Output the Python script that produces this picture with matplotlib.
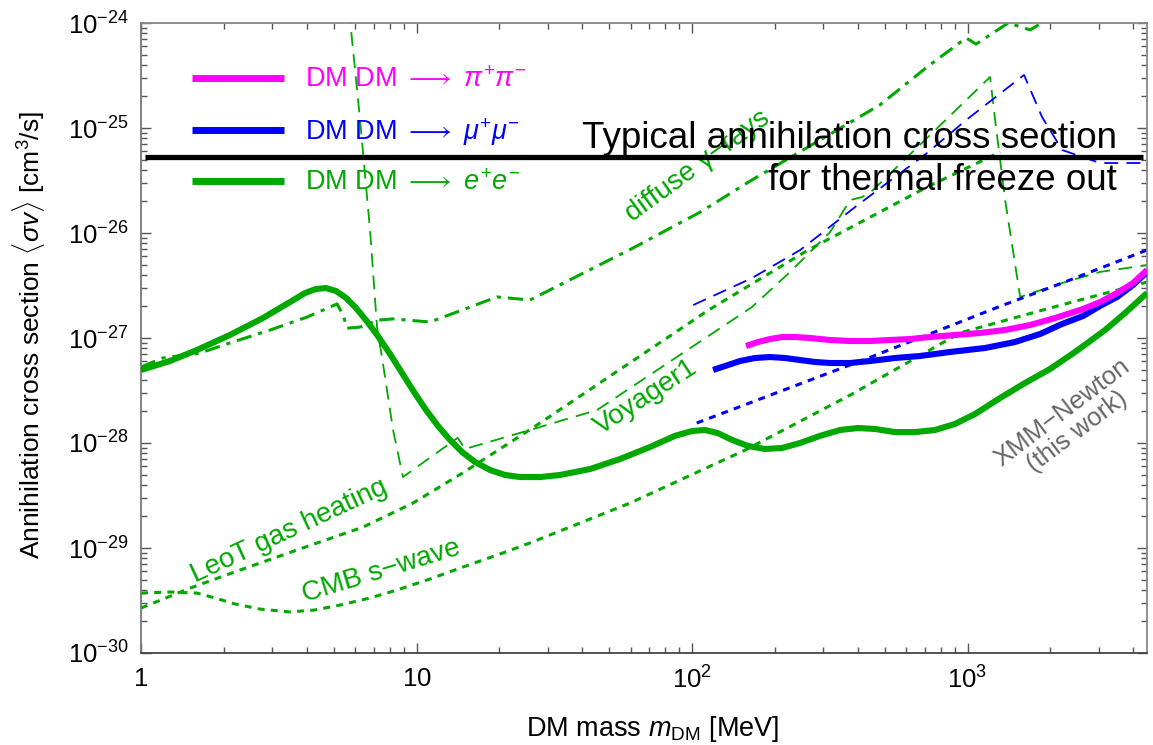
import numpy as np
import matplotlib
matplotlib.use('Agg')
import matplotlib.pyplot as plt
from matplotlib import font_manager
from matplotlib.lines import Line2D
from matplotlib.ticker import FixedLocator, FixedFormatter, LogLocator, NullFormatter

# ---------------- data ----------------
# XMM-Newton, DM DM -> e+ e-  (thick green)
xmm_ee_m = [1.0, 1.274, 1.597, 2.104, 2.772, 3.474, 3.938, 4.317, 4.694, 5.104, 5.548, 6.031, 6.557,
            7.25, 8.014, 8.859, 9.793, 10.83, 11.97, 13.23, 14.63, 16.31, 18.49, 20.96, 23.76, 28.08,
            33.19, 42.65, 54.8, 70.39, 86.76, 100.0, 111.5, 124.3, 139.7, 159.7, 184.1, 212.1, 246.6,
            291.5, 344.5, 400.5, 461.6, 545.6, 644.7, 762.1, 900.8, 1065, 1312, 1617, 1993, 2456,
            3156, 3730, 4482]
xmm_ee_sv = [4.96e-28, 6.04e-28, 7.69e-28, 1.07e-27, 1.55e-27, 2.2e-27, 2.68e-27, 2.93e-27, 2.99e-27,
             2.8e-27, 2.41e-27, 1.93e-27, 1.48e-27, 1.04e-27, 7.04e-28, 4.64e-28, 3.06e-28, 2.06e-28,
             1.45e-28, 1.07e-28, 8.21e-29, 6.59e-29, 5.53e-29, 4.96e-29, 4.74e-29, 4.74e-29, 4.96e-29,
             5.65e-29, 7.04e-29, 9.16e-29, 1.17e-28, 1.3e-28, 1.33e-28, 1.24e-28, 1.07e-28, 9.36e-29,
             8.77e-29, 8.96e-29, 1.0e-28, 1.17e-28, 1.33e-28, 1.39e-28, 1.36e-28, 1.27e-28, 1.27e-28,
             1.33e-28, 1.52e-28, 1.89e-28, 2.68e-28, 3.73e-28, 5.07e-28, 7.36e-28, 1.19e-27, 1.73e-27,
             2.68e-27]

# XMM-Newton, DM DM -> pi+ pi-  (thick magenta)
xmm_pi_m = [157.0, 173.6, 191.9, 212.1, 236.5, 268.1, 316.9, 374.6, 442.7, 523.3, 618.5, 731.0, 900.8,
            1110, 1368, 1686, 2078, 2626, 3027, 3488, 3988, 4482]
xmm_pi_sv = [8.39e-28, 9.16e-28, 9.78e-28, 1.022e-27, 1.022e-27, 1.0e-27, 9.57e-28, 9.36e-28, 9.36e-28,
             9.57e-28, 9.78e-28, 1.022e-27, 1.068e-27, 1.116e-27, 1.192e-27, 1.33e-27, 1.55e-27,
             1.89e-27, 2.2e-27, 2.68e-27, 3.34e-27, 4.44e-27]

# XMM-Newton, DM DM -> mu+ mu-  (thick blue)
xmm_mu_m = [119.2, 131.8, 149.4, 169.3, 191.9, 217.6, 246.6, 279.5, 316.9, 374.6, 442.7, 545.6, 672.4,
            864.2, 1157, 1487, 1834, 2203, 2626, 3027, 3488, 3988, 4482]
xmm_mu_sv = [4.96e-28, 5.41e-28, 6.04e-28, 6.45e-28, 6.59e-28, 6.45e-28, 6.17e-28, 5.91e-28, 5.78e-28,
             5.78e-28, 6.04e-28, 6.45e-28, 6.74e-28, 7.36e-28, 8.03e-28, 9.16e-28, 1.092e-27, 1.36e-27,
             1.62e-27, 2.02e-27, 2.46e-27, 3.2e-27, 4.25e-27]

# diffuse gamma rays, e+e- (green dash-dot)
gam_ee_m = [1.0, 1.2, 1.64, 2.1, 2.94, 4.0, 5.15, 5.41, 5.6, 6.24, 7.25, 8.22, 11.2, 19.6, 25.8,
            61.1, 107, 165, 292, 481, 713, 988, 1074, 1404, 1688, 1993]
gam_ee_sv = [5.3e-28, 6.45e-28, 7.2e-28, 8.96e-28, 1.19e-27, 1.58e-27, 2.11e-27, 1.66e-27, 1.24e-27,
             1.27e-27, 1.48e-27, 1.52e-27, 1.42e-27, 2.46e-27, 2.3e-27, 7.2e-27, 1.58e-26, 3.2e-26,
             7.7e-26, 1.66e-25, 3.81e-25, 7.2e-25, 6.3e-25, 1.0e-24, 8.6e-25, 1.12e-24]

# Voyager1, e+e- (green thin dashed)
voy_ee_m = [5.69, 6.24, 6.78, 7.19, 7.55, 8.22, 8.93, 14.1, 15.0, 25.8, 45.2, 165, 227, 317, 375,
            414, 446, 731, 1207, 1259, 1369, 1552, 2205, 3027, 4485]
voy_ee_sv = [1.33e-24, 1.19e-25, 1.07e-26, 1.27e-27, 5.78e-28, 1.33e-28, 4.74e-29, 1.12e-28, 8.77e-29,
             1.33e-28, 2.06e-28, 1.97e-27, 4.26e-27, 1.02e-26, 2.06e-26, 2.2e-26, 2.46e-26, 8.57e-26,
             3.06e-25, 1.19e-25, 2.06e-26, 2.46e-27, 3.34e-27, 4.26e-27, 4.95e-27]

# LeoT gas heating, e+e- (green dotted)
leot_m = [1.0, 1.51, 2.29, 3.68, 6.39, 9.71, 14.7, 26.7, 115, 264, 713, 1313]
leot_sv = [2.68e-30, 4.16e-30, 6.17e-30, 9.57e-30, 1.58e-29, 2.68e-29, 5.18e-29, 1.42e-28, 1.85e-27,
           6.89e-27, 2.74e-26, 5.9e-26]

# CMB s-wave, e+e- (green dotted)
cmb_ee_m = [1.0, 1.274, 1.6, 1.857, 2.194, 2.704, 3.474, 4.281, 5.277, 6.782, 8.497, 11.19, 14.75,
            20.1, 25.82, 39.22, 59.57, 156, 375, 940, 1993, 4485]
cmb_ee_sv = [3.72e-30, 3.81e-30, 3.72e-30, 3.34e-30, 2.93e-30, 2.62e-30, 2.46e-30, 2.57e-30, 2.86e-30,
             3.34e-30, 3.98e-30, 5.07e-30, 6.59e-30, 8.77e-30, 1.117e-29, 1.73e-29, 2.68e-29, 8.57e-29,
             2.86e-28, 1.12e-27, 1.93e-27, 3.41e-27]

# CMB, mu+mu- (blue dotted)
cmb_mu_m = [104, 446, 1291, 2205, 4485]
cmb_mu_sv = [1.55e-28, 6.59e-28, 1.97e-27, 3.34e-27, 6.89e-27]

# diffuse gamma rays / Voyager, mu+mu- (blue dashed)
gam_mu_m = [101, 165, 247, 391, 713, 988, 1603, 1864, 2205, 3027, 4485]
gam_mu_sv = [2.06e-27, 3.72e-27, 6.89e-27, 1.77e-26, 5.78e-26, 1.19e-25, 3.2e-25, 1.27e-25,
             6.17e-26, 4.64e-26, 4.64e-26]

# typical thermal cross section
thermal_sv = 5.3e-26
thermal_m_range = [1.03, 4340]

x_range = [1, 4480]
y_range = [1e-30, 1e-24]
x_major = [1, 10, 100, 1000]
x_major_labels = ['$1$', '$10$', '$10^{2}$', '$10^{3}$']
y_major = [1e-30, 1e-29, 1e-28, 1e-27, 1e-26, 1e-25, 1e-24]
y_major_labels = ['$10^{-30}$', '$10^{-29}$', '$10^{-28}$', '$10^{-27}$', '$10^{-26}$',
                  '$10^{-25}$', '$10^{-24}$']

legend_labels = [r'DM DM $\longrightarrow$ $\pi^{+}\pi^{-}$',
                 r'DM DM $\longrightarrow$ $\mu^{+}\mu^{-}$',
                 r'DM DM $\longrightarrow$ $e^{+}e^{-}$']

# ---------------- style ----------------
GREEN = '#00a800'
MAGENTA = '#ff00ff'
BLUE = '#0000ff'
GRAY = '#666666'

plt.rcParams['font.family'] = ['Liberation Sans', 'DejaVu Sans']
plt.rcParams['mathtext.fontset'] = 'custom'
plt.rcParams['mathtext.rm'] = 'Liberation Sans'
plt.rcParams['mathtext.sf'] = 'Liberation Sans'
plt.rcParams['mathtext.it'] = 'Liberation Sans:italic'
plt.rcParams['mathtext.bf'] = 'Liberation Sans:bold'
plt.rcParams['lines.scale_dashes'] = False
plt.rcParams['lines.dash_capstyle'] = 'butt'

def has_font(name):
    try:
        font_manager.findfont(font_manager.FontProperties(family=name), fallback_to_default=False)
        return True
    except Exception:
        return False

narrow = has_font('Liberation Sans Narrow')

fig = plt.figure(figsize=(11.53, 7.45), dpi=100)
ax = fig.add_axes([141/1153, 92/745, 1006/1153, 630/745])
ax.set_xscale('log')
ax.set_yscale('log')
ax.set_xlim(*x_range)
ax.set_ylim(*y_range)

lw_thick = 4.4
lw_dot = 2.2
lw_dash = 1.3
dot_pat = (5.0, 4.5)
dash_pat = (10.0, 6.0)
dashdot_pat = (11.0, 5.0, 3.0, 5.0)

ax.plot(cmb_ee_m, cmb_ee_sv, color=GREEN, lw=lw_dot, dashes=dot_pat, zorder=2)
ax.plot(leot_m, leot_sv, color=GREEN, lw=lw_dot, dashes=dot_pat, zorder=2)
ax.plot(gam_ee_m, gam_ee_sv, color=GREEN, lw=lw_dot, dashes=dashdot_pat, zorder=2)
ax.plot(voy_ee_m, voy_ee_sv, color=GREEN, lw=lw_dash, dashes=dash_pat, zorder=2)
ax.plot(cmb_mu_m, cmb_mu_sv, color=BLUE, lw=lw_dot, dashes=dot_pat, zorder=2)
ax.plot(gam_mu_m, gam_mu_sv, color=BLUE, lw=lw_dash, dashes=dash_pat, zorder=2)

ax.plot(xmm_ee_m, xmm_ee_sv, color=GREEN, lw=lw_thick, solid_capstyle='butt',
        solid_joinstyle='round', zorder=3)
ax.plot(xmm_mu_m, xmm_mu_sv, color=BLUE, lw=lw_thick, solid_capstyle='butt',
        solid_joinstyle='round', zorder=3)
ax.plot(xmm_pi_m, xmm_pi_sv, color=MAGENTA, lw=lw_thick, solid_capstyle='butt',
        solid_joinstyle='round', zorder=3)

# curve labels
lab_fs = 20
ax.text(1.57, 4.64e-30, 'LeoT gas heating', color=GREEN, fontsize=lab_fs, rotation=25,
        rotation_mode='anchor', ha='left', va='baseline')
ax.text(3.94, 3.06e-30, 'CMB s\u2212wave', color=GREEN, fontsize=lab_fs, rotation=17,
        rotation_mode='anchor', ha='left', va='baseline')
ax.text(46.4, 1.19e-28, 'Voyager1', color=GREEN, fontsize=lab_fs, rotation=33,
        rotation_mode='anchor', ha='left', va='baseline')
ax.text(60.6, 1.27e-26, 'diffuse \u03b3\u2212rays', color=GREEN, fontsize=lab_fs, rotation=36,
        rotation_mode='anchor', ha='left', va='baseline')
ax.text(2350, 1.58e-28, 'XMM\u2212Newton\n(this work)', color=GRAY, fontsize=18.5, rotation=37,
        rotation_mode='anchor', ha='center', va='center', multialignment='center', linespacing=1.0)

# thermal line + annotation
ax.hlines(thermal_sv, thermal_m_range[0], thermal_m_range[1], color='black', lw=3.8, zorder=5)
if narrow:
    tfam, tfs = ['Liberation Sans Narrow', 'DejaVu Sans'], 32
else:
    tfam, tfs = ['Liberation Sans', 'DejaVu Sans'], 26.5
ax.text(3490, 6.45e-26, 'Typical annihilation cross section', family=tfam, fontsize=tfs,
        ha='right', va='baseline', color='black', zorder=6)
ax.text(3490, 2.57e-26, 'for thermal freeze out', family=tfam, fontsize=tfs,
        ha='right', va='baseline', color='black', zorder=6)

# legend
handles = [Line2D([], [], color=MAGENTA, lw=5.0, solid_capstyle='butt'),
           Line2D([], [], color=BLUE, lw=5.0, solid_capstyle='butt'),
           Line2D([], [], color=GREEN, lw=5.0, solid_capstyle='butt')]
leg = ax.legend(handles, legend_labels, loc='upper left', bbox_to_anchor=(0.0507, 0.930),
                frameon=False, fontsize=19.5, handlelength=3.4, handletextpad=0.77,
                labelspacing=0.84, borderpad=0, borderaxespad=0,
                labelcolor=[MAGENTA, BLUE, GREEN])
leg.set_zorder(7)

# axes / ticks
ax.xaxis.set_major_locator(FixedLocator(x_major))
ax.xaxis.set_major_formatter(FixedFormatter(x_major_labels))
ax.xaxis.set_minor_locator(LogLocator(base=10, subs=np.arange(2, 10)))
ax.xaxis.set_minor_formatter(NullFormatter())
ax.yaxis.set_major_locator(FixedLocator(y_major))
ax.yaxis.set_major_formatter(FixedFormatter(y_major_labels))
ax.yaxis.set_minor_locator(LogLocator(base=10, subs=np.arange(2, 10), numticks=20))
ax.yaxis.set_minor_formatter(NullFormatter())

tick_col = '#555555'
ax.tick_params(which='both', direction='in', top=True, right=True, colors=tick_col,
               labelcolor='black', labelsize=18.5, width=1.0)
ax.tick_params(which='major', length=7.5)
ax.tick_params(which='minor', length=4.3)
ax.tick_params(axis='y', which='major', pad=9)
ax.tick_params(axis='x', which='major', pad=10)
for side, col in [('left', '#777777'), ('bottom', '#444444'), ('top', '#888888'), ('right', '#888888')]:
    ax.spines[side].set_color(col)
    ax.spines[side].set_linewidth(1.3)

ax.set_xlabel(r'DM mass $m_{\rm DM}$ [MeV]', fontsize=19.5)
ax.set_ylabel(r'Annihilation cross section $\langle\sigma v\rangle$ [cm$^{3}$/s]', fontsize=19)
ax.xaxis.set_label_coords(0.509, -0.097)
ax.yaxis.set_label_coords(-0.093, 0.505)

fig.savefig('out.png', dpi=100)
